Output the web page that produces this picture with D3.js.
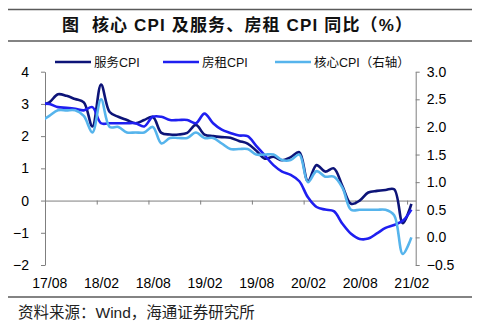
<!DOCTYPE html>
<html>
<head>
<meta charset="utf-8">
<script src="https://cdn.jsdelivr.net/npm/d3@7"></script>
<style>
  body { margin: 0; background: #fff; }
  svg { font-family: "Liberation Sans", "Noto Sans CJK SC", sans-serif; }
  .axis text { font-size: 14px; fill: #000; }
  .axis path, .axis line { stroke: #7f7f7f; }
</style>
</head>
<body>
<div class="chart"></div>
<script>
// monthly yoy, %, 17/07 .. 21/02 (first month sits left of the axis and is clipped)
const months = [
  '17/07', '17/08', '17/09', '17/10', '17/11', '17/12',
  '18/01', '18/02', '18/03', '18/04', '18/05', '18/06', '18/07', '18/08', '18/09', '18/10', '18/11', '18/12',
  '19/01', '19/02', '19/03', '19/04', '19/05', '19/06', '19/07', '19/08', '19/09', '19/10', '19/11', '19/12',
  '20/01', '20/02', '20/03', '20/04', '20/05', '20/06', '20/07', '20/08', '20/09', '20/10', '20/11', '20/12',
  '21/01', '21/02'
];
const services = [
  2.95, 3.05, 3.3, 3.25, 3.15, 3.05,
  2.3, 3.6, 2.75, 2.6, 2.5, 2.4, 2.5, 2.6, 2.1, 2.05, 2.05, 2.1,
  2.35, 2.05, 2.0, 1.97, 1.95, 1.85, 1.77, 1.55, 1.3, 1.36, 1.25, 1.35,
  1.5, 0.6, 1.1, 0.9, 1.0, 0.45, -0.1, 0.0, 0.25, 0.3, 0.33, 0.35,
  -0.7, -0.1
];
const rent = [
  3.0, 3.0, 2.9, 2.88, 2.85, 2.8,
  2.9, 2.4, 2.4, 2.4, 2.4, 2.4, 2.3, 2.6, 2.6, 2.5, 2.5, 2.5,
  2.4, 2.7, 2.4, 2.2, 2.1, 2.02, 2.0, 1.7, 1.4, 1.1, 0.9, 0.8,
  0.6, 0.1, -0.2, -0.28, -0.33, -0.72, -1.03, -1.19, -1.18, -1.02, -0.85, -0.76,
  -0.63, -0.28
];
const core = [
  2.1, 2.2, 2.3, 2.3, 2.3, 2.2,
  1.9, 2.5, 2.0, 2.0, 1.9, 1.9, 1.9, 2.0, 1.7, 1.8, 1.8, 1.8,
  1.9, 1.8, 1.8, 1.7, 1.6, 1.6, 1.6, 1.5, 1.5, 1.5, 1.4, 1.4,
  1.5, 1.0, 1.2, 1.1, 1.1, 0.9, 0.5, 0.5, 0.5, 0.5, 0.5, 0.4,
  -0.3, 0.0
];
const xLabels = ['17/08', '18/02', '18/08', '19/02', '19/08', '20/02', '20/08', '21/02'];
const leftTicks = [-2, -1, 0, 1, 2, 3, 4];
const rightTicks = [-0.5, 0, 0.5, 1, 1.5, 2, 2.5, 3];

const series = [
  { name: '服务CPI', values: services, axis: 'left', color: '#0d1478' },
  { name: '房租CPI', values: rent, axis: 'left', color: '#1f1ff0' },
  { name: '核心CPI（右轴）', values: core, axis: 'right', color: '#56b4ec' }
];

const width = 483;
const height = 331;
const plot = { left: 45, right: 415.7, top: 71.7, bottom: 265 };

const svg = d3
  .select('.chart')
  .append('svg')
  .attr('width', width)
  .attr('height', height);

// month index: 0 = 17/08, categories are centred between the tick marks
const first = months.indexOf('17/08');
const xScale = d3
  .scaleLinear()
  .domain([-0.5, months.length - first - 0.5])
  .range([plot.left, plot.right]);
const yLeft = d3.scaleLinear().domain([-2, 4]).range([plot.bottom, plot.top]);
const yRight = d3.scaleLinear().domain([-0.5, 3]).range([plot.bottom, plot.top]);

// header and footer rules
svg.append('line').attr('x1', 8).attr('x2', 472).attr('y1', 9.5).attr('y2', 9.5)
  .attr('stroke', '#5a5a5a').attr('stroke-width', 1.5);
svg.append('line').attr('x1', 8).attr('x2', 472).attr('y1', 41).attr('y2', 41)
  .attr('stroke', '#5a5a5a').attr('stroke-width', 1.5);
svg.append('line').attr('x1', 8).attr('x2', 472).attr('y1', 297).attr('y2', 297)
  .attr('stroke', '#5a5a5a').attr('stroke-width', 1.5);

svg
  .append('text')
  .attr('x', 62)
  .attr('y', 25)
  .attr('dy', '0.36em')
  .attr('textLength', 350)
  .attr('lengthAdjust', 'spacing')
  .style('white-space', 'pre')
  .attr('font-size', '17px')
  .attr('font-weight', 'bold')
  .attr('fill', '#111')
  .text('图  核心 CPI 及服务、房租 CPI 同比（%）');

svg
  .append('text')
  .attr('x', 18)
  .attr('y', 312)
  .attr('dy', '0.36em')
  .attr('font-size', '15.5px')
  .attr('fill', '#222')
  .text('资料来源：Wind，海通证券研究所');

// left axis
const yAxisLeft = d3
  .axisLeft(yLeft)
  .tickValues(leftTicks)
  .tickFormat(d3.format('d'))
  .tickSize(4)
  .tickSizeOuter(0)
  .tickPadding(12);
svg.append('g').attr('class', 'axis').attr('transform', `translate(${plot.left},0)`).call(yAxisLeft);

// right axis
const yAxisRight = d3
  .axisRight(yRight)
  .tickValues(rightTicks)
  .tickFormat(d3.format('.1f'))
  .tickSize(4)
  .tickSizeOuter(0)
  .tickPadding(7);
svg.append('g').attr('class', 'axis').attr('transform', `translate(${plot.right},0)`).call(yAxisRight);

// zero line with tick marks between months
const tickMonths = xLabels.map((d) => months.indexOf(d) - first - 0.5);
const xAxis = d3.axisBottom(xScale).tickValues(tickMonths).tickSize(4).tickSizeOuter(0).tickFormat('');
svg.append('g').attr('class', 'axis').attr('transform', `translate(0,${yLeft(0)})`).call(xAxis);

// month labels along the bottom
const labelAxis = d3
  .axisBottom(xScale)
  .tickValues(xLabels.map((d) => months.indexOf(d) - first))
  .tickFormat((d) => months[d + first])
  .tickSize(0)
  .tickPadding(0);
svg
  .append('g')
  .attr('class', 'axis')
  .attr('transform', 'translate(0,278)')
  .call(labelAxis)
  .call((g) => g.select('.domain').remove());

svg
  .append('clipPath')
  .attr('id', 'plot-clip')
  .append('rect')
  .attr('x', plot.left)
  .attr('y', 0)
  .attr('width', plot.right - plot.left)
  .attr('height', height);

const lines = svg.append('g').attr('clip-path', 'url(#plot-clip)');
series.forEach((s) => {
  const yScale = s.axis === 'left' ? yLeft : yRight;
  const line = d3
    .line()
    .x((d, i) => xScale(i - first))
    .y((d) => yScale(d))
    .curve(d3.curveCatmullRom.alpha(0.5));
  lines
    .append('path')
    .datum(s.values)
    .attr('fill', 'none')
    .attr('stroke', s.color)
    .attr('stroke-width', 2.6)
    .attr('stroke-linejoin', 'round')
    .attr('d', line);
});

// legend
const legendX = [55, 163, 275];
const legend = svg
  .selectAll('.legend')
  .data(series)
  .join('g')
  .attr('class', 'legend')
  .attr('transform', (d, i) => `translate(${legendX[i]},62)`);
legend
  .append('line')
  .attr('x1', 0)
  .attr('x2', 36)
  .attr('stroke', (d) => d.color)
  .attr('stroke-width', 2.6);
legend
  .append('text')
  .attr('x', 39)
  .attr('dy', '0.36em')
  .attr('font-size', '12.5px')
  .attr('fill', '#111')
  .text((d) => d.name);
</script>
</body>
</html>
